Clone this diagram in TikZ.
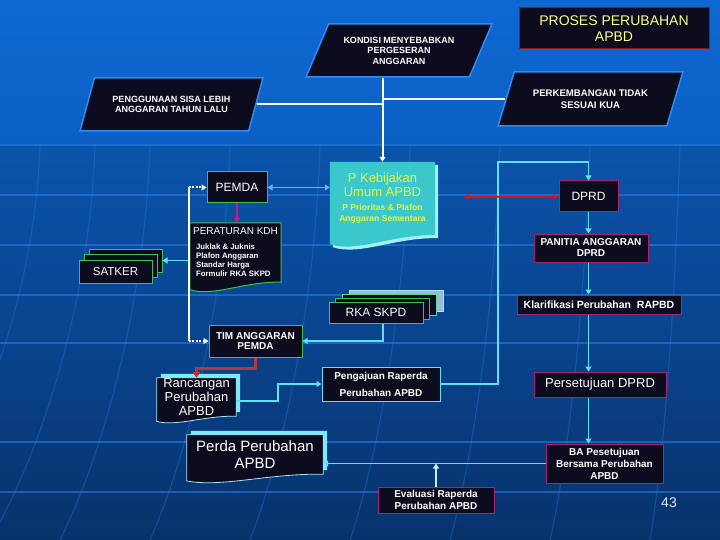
\documentclass[tikz,border=0pt]{standalone}
\usepackage{fontspec}
\setmainfont{Liberation Sans}
\usetikzlibrary{arrows.meta, positioning, shapes.geometric, calc}

\definecolor{bgtopa}{RGB}{14,104,210}
\definecolor{bgtopb}{RGB}{12,96,196}
\definecolor{bgmid}{RGB}{10,84,172}
\definecolor{bgbot}{RGB}{8,50,108}
\definecolor{gridc}{RGB}{40,125,225}
\definecolor{boxfill}{RGB}{12,12,30}
\definecolor{grn}{RGB}{64,192,80}
\definecolor{mag}{RGB}{160,40,115}
\definecolor{cyanline}{RGB}{96,224,250}
\definecolor{lightblue}{RGB}{96,180,246}
\definecolor{parborder}{RGB}{50,140,240}
\definecolor{titlered}{RGB}{140,24,36}
\definecolor{titleyel}{RGB}{255,255,140}
\definecolor{kbfill}{RGB}{58,200,205}
\definecolor{kbtext}{RGB}{232,248,60}
\definecolor{kbshadow}{RGB}{165,240,240}
\definecolor{docshadow}{RGB}{120,236,250}
\definecolor{docedge}{RGB}{170,230,245}
\definecolor{arrowred}{RGB}{215,20,30}
\definecolor{linkred}{RGB}{185,55,55}
\definecolor{magline}{RGB}{200,30,130}
\definecolor{pale}{RGB}{150,190,220}
\definecolor{pagenum}{RGB}{220,235,250}

\pgfdeclarelayer{bg}
\pgfdeclarelayer{docs}
\pgfsetlayers{bg,docs,main}

% document shape with a wavy bottom edge
\newcommand{\wavedoc}[2]{(#1.north west) -- (#1.north east) -- (#1.south east)
  .. controls ($(#1.south west)!0.6!(#1.south east)+(0pt,0.1*#2)$)
  and ($(#1.south west)!0.25!(#1.south east)+(0pt,-1.5*#2)$)
  .. ($(#1.south west)+(0pt,-0.75*#2)$) -- cycle}

\begin{document}
\begin{tikzpicture}[x=1pt, y=-1pt,
    box/.style={draw, fill=boxfill, text=white, inner sep=0pt, line width=1pt, align=center},
    gbox/.style={box, draw=grn},
    mbox/.style={box, draw=mag},
    cbox/.style={box, draw=cyanline},
    para/.style={trapezium, trapezium left angle=57, trapezium right angle=123,
        trapezium stretches=true, draw=parborder, line width=1.5pt, fill=boxfill,
        text=white, inner sep=0pt, align=center, font=\fontsize{9}{10.5}\selectfont\bfseries},
    doctext/.style={inner sep=0pt, text=white, align=center},
    gridline/.style={gridc, line width=1.5pt, opacity=0.6},
    meridian/.style={gridc, line width=1.2pt, opacity=0.35},
    wline/.style={white, line width=2pt},
    cline/.style={cyanline, line width=1.8pt},
    tip/.style={-{Triangle[width=6pt,length=5pt]}},
    tips/.style={{Triangle[width=6pt,length=5pt]}-{Triangle[width=6pt,length=5pt]}}
]
    \useasboundingbox (0,0) rectangle (720,540);

    % background
    \begin{pgfonlayer}{bg}
        \shade[top color=bgtopa, bottom color=bgtopb] (0,0) rectangle (720,145);
        \shade[top color=bgmid, bottom color=bgbot] (0,145) rectangle (720,540);
        \draw[gridline] (0,145) -- (720,145);
        \foreach \gy in {195,245,295,343,442,492}
            \draw[gridline] (0,\gy) -- (720,\gy);
        \foreach \gx/\gb in {40/-90, 95/-10, 150/60, 230/150, 320/250, 410/350, 500/450, 590/550, 680/650}
            \draw[meridian] (\gx,145) .. controls ({\gx-5},300) and ({0.5*(\gx+\gb)},450) .. (\gb,540);
    \end{pgfonlayer}

    \node[draw=titlered, fill=boxfill, line width=1pt, minimum width=190pt, minimum height=41pt,
        inner sep=0pt, align=center, text=titleyel, font=\fontsize{14}{16}\selectfont]
        (proses) at (614,28.5) {PROSES PERUBAHAN\\APBD};

    \node[para, minimum width=186pt, minimum height=53pt] (kondisi) at (399,50.5)
        {KONDISI MENYEBABKAN\\PERGESERAN\\ANGGARAN};
    \node[para, minimum width=183pt, minimum height=53pt] (pengguna) at (171.5,104.5)
        {PENGGUNAAN SISA LEBIH\\ANGGARAN TAHUN LALU};
    \node[para, minimum width=185pt, minimum height=54pt, font=\fontsize{9.6}{12}\selectfont\bfseries]
        (perkemb) at (590.5,99) {PERKEMBANGAN TIDAK\\SESUAI KUA};

    \node[doctext, minimum width=105pt, minimum height=73pt, text=kbtext,
        font=\fontsize{8.6}{11}\selectfont] (kb) at (382.5,198.5)
        {{\fontsize{13}{15}\selectfont P Kebijakan}\\[1pt]{\fontsize{13}{15}\selectfont Umum APBD}\\[3pt]
         {\bfseries P Prioritas \& Plafon}\\{\bfseries Anggaran Sementara}};

    \node[gbox, minimum width=60pt, minimum height=31pt, font=\fontsize{12}{14}\selectfont]
        (pemda) at (237,187.5) {PEMDA};

    \node[doctext, minimum width=91pt, minimum height=59pt, align=left,
        font=\fontsize{7.8}{9}\selectfont\bfseries] (kdh) at (235.5,252.5)
        {{\fontsize{10}{12}\selectfont\mdseries PERATURAN KDH}\\[6pt]
         \hspace{3pt}Juklak \& Juknis\\\hspace{3pt}Plafon Anggaran\\
         \hspace{3pt}Standar Harga\\\hspace{3pt}Formulir RKA SKPD};

    \node[gbox, minimum width=73pt, minimum height=23pt, font=\fontsize{11.5}{13}\selectfont,
        preaction={draw=grn, fill=boxfill, line width=1pt, transform canvas={shift={(10pt,11pt)}}},
        preaction={draw=grn, fill=boxfill, line width=1pt, transform canvas={shift={(5pt,5.5pt)}}}]
        (satker) at (115.5,271.5) {SATKER};

    \node[gbox, minimum width=94pt, minimum height=21pt, font=\fontsize{12}{14}\selectfont,
        preaction={draw=docedge, fill=pale, line width=1pt, transform canvas={shift={(20pt,12pt)}}},
        preaction={draw=grn!60!docedge, fill=boxfill, line width=1pt, transform canvas={shift={(13pt,8pt)}}},
        preaction={draw=grn, fill=boxfill, line width=1pt, transform canvas={shift={(6pt,4pt)}}}]
        (rka) at (376,312.5) {RKA SKPD};

    \node[gbox, minimum width=93pt, minimum height=32pt, font=\fontsize{10}{10.5}\selectfont\bfseries]
        (tim) at (255.5,341) {TIM ANGGARAN\\PEMDA};

    \node[doctext, minimum width=79pt, minimum height=38pt, font=\fontsize{13}{14}\selectfont]
        (rancangan) at (196.5,397) {Rancangan\\Perubahan\\APBD};

    \node[cbox, minimum width=118pt, minimum height=34pt, font=\fontsize{10}{17}\selectfont\bfseries]
        (pengajuan) at (381,384) {Pengajuan Raperda\\Perubahan APBD};

    \node[doctext, minimum width=136pt, minimum height=39pt, font=\fontsize{15}{17}\selectfont]
        (perda) at (255,454.5) {Perda Perubahan\\APBD};

    \node[mbox, minimum width=59pt, minimum height=31pt, font=\fontsize{12}{14}\selectfont]
        (dprd) at (588.5,196.5) {DPRD};
    \node[mbox, minimum width=114pt, minimum height=28pt, font=\fontsize{10}{11}\selectfont\bfseries]
        (panitia) at (591,248) {PANITIA ANGGARAN\\DPRD};
    \node[mbox, minimum width=164pt, minimum height=19pt, font=\fontsize{10.5}{12}\selectfont\bfseries]
        (klar) at (599,304.5) {Klarifikasi Perubahan\ \ RAPBD};
    \node[mbox, minimum width=132pt, minimum height=25pt, font=\fontsize{13}{15}\selectfont]
        (setuju) at (600,384.5) {Persetujuan DPRD};
    \node[mbox, minimum width=117pt, minimum height=39pt, font=\fontsize{10}{12}\selectfont\bfseries]
        (ba) at (604.5,463.5) {BA Pesetujuan\\Bersama Perubahan\\APBD};
    \node[mbox, minimum width=116pt, minimum height=26pt, font=\fontsize{10}{11.5}\selectfont\bfseries]
        (evaluasi) at (436,500) {Evaluasi Raperda\\Perubahan APBD};

    \node[text=pagenum, font=\fontsize{14}{16}\selectfont] (hal) at (669,503) {43};

    % document shapes behind their text
    \begin{pgfonlayer}{docs}
        \fill[kbshadow, transform canvas={shift={(3pt,-3pt)}}] \wavedoc{kb}{12pt};
        \fill[kbfill] \wavedoc{kb}{12pt};
        \draw[grn, fill=boxfill, line width=1pt] \wavedoc{kdh}{10pt};
        \fill[docshadow, transform canvas={shift={(4pt,4pt)}}] \wavedoc{rancangan}{7pt};
        \draw[docedge, fill=boxfill, line width=0.8pt] \wavedoc{rancangan}{7pt};
        \fill[docshadow, transform canvas={shift={(4pt,4pt)}}] \wavedoc{perda}{9pt};
        \draw[docedge, fill=boxfill, line width=0.8pt] \wavedoc{perda}{9pt};
    \end{pgfonlayer}

    % connectors
    \coordinate (jk) at (kondisi.south -| kb.north);
    \draw[wline] (pengguna.east) -- (pengguna.east -| kb.north);
    \draw[wline] (perkemb.west) -- (perkemb.west -| kb.north);
    \draw[wline, tip] (jk) -- (kb.north);

    \draw[lightblue, line width=1.8pt, tips] (pemda.east) -- (pemda.east -| kb.west);
    \draw[magline, line width=2pt, tip] (pemda.south) -- (pemda.south |- kdh.north);

    \coordinate (skback) at ([shift={(10pt,11pt)}]satker.east);
    \draw[cline, tip] (kdh.west |- skback) -- (skback);

    \coordinate (lp) at ([xshift=-18pt]pemda.west);
    \draw[wline] (lp) -- (lp |- tim.west);
    \draw[wline, dash pattern=on 2pt off 1.5pt, tip] (lp) -- (pemda.west);
    \draw[wline, dash pattern=on 2pt off 1.5pt, tip] (lp |- tim.west) -- (tim.west);

    \draw[cline, tip] ([xshift=7pt]rka.south) |- (tim.east);
    \draw[linkred, line width=2.6pt, -{Triangle[width=8pt,length=6pt,fill=arrowred]}]
        (tim.south) -- ++(0,11) -| (rancangan.north);
    \draw[cline, tip] ([yshift=-4pt]rancangan.east) -- ++(42,0) |- (pengajuan.west);

    \coordinate (jd) at (498,162);
    \draw[cline, tip] (pengajuan.east) -| (jd) -| (dprd.north);

    \coordinate (redl) at (464,197);
    \draw[arrowred, line width=1.8pt, tips] (redl) -- (dprd.west);

    \foreach \a/\b in {dprd/panitia, panitia/klar, klar/setuju, setuju/ba}
        \draw[cline, tip] (\a.south -| dprd.south) -- (\b.north -| dprd.south);

    \draw[cline, tip] (ba.west) -- (ba.west -| perda.east);
    \draw[cyanline!40!white, line width=1.8pt, tip] (evaluasi.north) -- (evaluasi.north |- ba.west);
\end{tikzpicture}
\end{document}
